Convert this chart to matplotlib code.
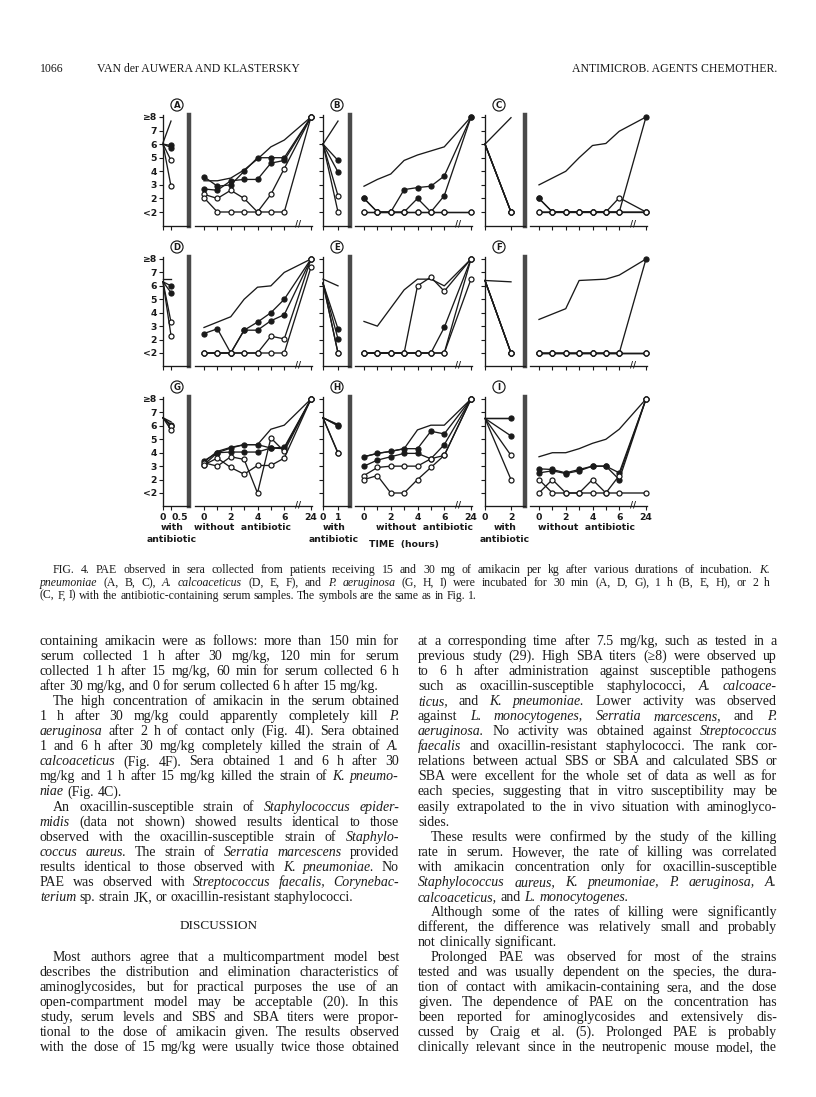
import numpy as np
import matplotlib
matplotlib.use('Agg')
import matplotlib.pyplot as plt

W, H = 816, 1097
INK = '#1a1a1a'

# hours after removal of the antibiotic (24 h is drawn after the axis break)
hours = np.array([0, 1, 2, 3, 4, 5, 6, 24])
# contact time with the antibiotic, per column (30 min, 1 h, 2 h)
t_with = [0.5, 1, 2]
t_with_labels = ['0.5', '1', '2']
ytick_labels = ['<2', '2', '3', '4', '5', '6', '7', '\u22658']

# series order in every panel: control, filled 1, filled 2, open 1, open 2
kinds = ['ctrl', 'filled', 'filled', 'open', 'open']

# --- panel A
a_with0 = [6.1, 6.0, 6.0, 6.0, 6.0]
a_with1 = [7.7, 5.9, 5.75, 4.8, 2.9]
a_without = [[3.3, 3.3, 3.5, 4.1, 4.9, 5.8, 6.3, 8],
             [3.6, 2.9, 3.0, 4.0, 5.0, 5.0, 5.0, 8],
             [2.7, 2.6, 3.3, 3.4, 3.4, 4.6, 4.8, 8],
             [2.3, 2.0, 2.6, 2.0, 1.0, 2.3, 4.2, 8],
             [2.05, 1, 1, 1, 1, 1, 1, 8]]
# --- panel B
b_with0 = [6.0, 6.0, 6.0, 6.0, 6.0]
b_with1 = [7.7, 4.8, 3.95, 2.2, 1.0]
b_without = [[2.9, 3.4, 3.8, 4.8, 5.2, 5.5, 5.8, 8],
             [2.0, 1, 1, 2.65, 2.8, 2.9, 3.65, 8],
             [2.0, 1, 1, 1, 2.0, 1, 2.2, 8],
             [1, 1, 1, 1, 1, 1, 1, 1],
             [1, 1, 1, 1, 1, 1, 1, 1]]
# --- panel C
c_with0 = [6.0, 6.0, 6.0, 6.0, 6.0]
c_with1 = [7.95, 1, 1, 1, 1]
c_without = [[3.0, 3.5, 4.0, 5.0, 5.9, 6.05, 6.95, 8],
             [2.0, 1, 1, 1, 1, 1, 1, 8],
             [2.0, 1, 1, 1, 1, 1, 1, 1],
             [1, 1, 1, 1, 1, 1, 2.05, 1],
             [1, 1, 1, 1, 1, 1, 1, 1]]
# --- panel D
d_with0 = [6.5, 6.3, 6.3, 6.3, 6.3]
d_with1 = [6.5, 6.0, 5.5, 3.3, 2.3]
d_without = [[2.9, 3.3, 3.7, 5.0, 5.9, 6.0, 7.0, 8],
             [2.45, 2.8, 1, 2.7, 3.3, 4.0, 5.0, 8],
             [1, 1, 1, 2.7, 2.7, 3.4, 3.85, 8],
             [1, 1, 1, 1, 1, 2.25, 2.05, 8],
             [1, 1, 1, 1, 1, 1, 1, 7.4]]
# --- panel E
e_with0 = [6.5, 6.2, 6.2, 6.2, 6.2]
e_with1 = [6.0, 2.8, 2.05, 1, 1]
e_without = [[3.35, 3.0, 4.35, 5.7, 6.5, 6.5, 6.0, 8],
             [1, 1, 1, 1, 1, 1, 2.9, 8],
             [1, 1, 1, 1, 1, 1, 1, 8],
             [1, 1, 1, 1, 6.0, 6.65, 5.6, 8],
             [1, 1, 1, 1, 1, 1, 1, 6.5]]
# --- panel F
f_with0 = [6.4, 6.4, 6.4, 6.4, 6.4]
f_with1 = [6.3, 1, 1, 1, 1]
f_without = [[3.5, 3.9, 4.3, 6.4, 6.45, 6.5, 6.8, 8],
             [1, 1, 1, 1, 1, 1, 1, 8],
             [1, 1, 1, 1, 1, 1, 1, 1],
             [1, 1, 1, 1, 1, 1, 1, 1],
             [1, 1, 1, 1, 1, 1, 1, 1]]
# --- panel G
g_with0 = [6.6, 6.6, 6.6, 6.6, 6.6]
g_with1 = [6.3, 6.1, 6.0, 6.0, 5.7]
g_without = [[3.3, 4.1, 4.4, 4.6, 4.6, 5.75, 6.05, 8],
             [3.4, 4.0, 4.35, 4.6, 4.6, 4.35, 4.4, 8],
             [3.1, 4.0, 4.05, 4.05, 4.05, 4.35, 4.3, 8],
             [3.25, 3.0, 3.7, 3.5, 1.0, 5.1, 4.1, 8],
             [3.1, 3.6, 2.9, 2.4, 3.05, 3.05, 3.6, 8]]
# --- panel H
h_with0 = [6.6, 6.6, 6.6, 6.6, 6.6]
h_with1 = [6.1, 6.05, 6.0, 4.0, 3.95]
h_without = [[3.7, 3.95, 4.1, 4.3, 5.7, 6.05, 6.05, 8],
             [3.7, 3.95, 4.1, 4.3, 4.3, 5.6, 5.4, 8],
             [3.0, 3.45, 3.7, 3.95, 3.95, 3.55, 4.6, 8],
             [2.3, 2.9, 3.0, 3.0, 3.0, 3.55, 3.8, 8],
             [2.0, 2.3, 1.0, 1.0, 2.0, 2.9, 3.8, 8]]
# --- panel I
i_with0 = [6.55, 6.55, 6.55, 6.55, 6.55]
i_with1 = [6.55, 6.55, 5.25, 3.8, 2.0]
i_without = [[3.7, 4.0, 4.0, 4.3, 4.7, 5.0, 5.75, 8],
             [2.8, 2.75, 2.5, 2.75, 3.0, 3.0, 2.5, 8],
             [2.5, 2.65, 2.45, 2.65, 3.0, 3.0, 2.0, 8],
             [2.0, 1, 1, 1, 2.0, 1, 2.3, 8],
             [1, 2.0, 1, 1, 1, 1, 1, 1]]

panels = [('A', a_with0, a_with1, a_without), ('B', b_with0, b_with1, b_without),
          ('C', c_with0, c_with1, c_without), ('D', d_with0, d_with1, d_without),
          ('E', e_with0, e_with1, e_without), ('F', f_with0, f_with1, f_without),
          ('G', g_with0, g_with1, g_without), ('H', h_with0, h_with1, h_without),
          ('I', i_with0, i_with1, i_without)]

# page layout in pixels
yaxis_x = [163, 323, 485]
tick_x = [171, 338, 511]
bar_x = [189, 350, 525]
main0_x = [204, 364, 539]
main24_x = [311, 471, 646]
v8_y = [117, 259, 399]
v1_y = [212, 353, 493]
with_lab_x = [172, 334, 505]
without_lab_x = [242, 424, 587]

fig = plt.figure(figsize=(W / 100, H / 100), dpi=100)
fig.patch.set_facecolor('white')


def box(x0, y0, x1, y1):
    return [x0 / W, 1 - y1 / H, (x1 - x0) / W, (y1 - y0) / H]


def fx(x):
    return x / W


def fy(y):
    return 1 - y / H


lab_font = dict(family='DejaVu Sans', fontweight='bold', fontsize=6.7, color=INK)


def draw(ax, x, y, kind, left=False):
    kw = dict(color=INK, lw=0.95, clip_on=False, zorder=4)
    if kind != 'ctrl':
        kw.update(marker='o', ms=3.6, mec=INK, mew=0.9,
                  mfc=INK if kind == 'filled' else 'white')
        if left:
            kw['markevery'] = [1]
    ax.plot(x, y, **kw)


for k, (letter, w0, w1, wo) in enumerate(panels):
    r, c = divmod(k, 3)
    unit = (v1_y[r] - v8_y[r]) / 7
    ybot = v1_y[r] + unit
    ytop = v8_y[r] - 0.15 * unit
    tmax = t_with[c]

    # section with antibiotic
    axl = fig.add_axes(box(yaxis_x[c], ytop, bar_x[c], ybot))
    axl.set_xlim(0, tmax * (bar_x[c] - yaxis_x[c]) / (tick_x[c] - yaxis_x[c]))
    axl.set_ylim(0, 8.15)
    axl.patch.set_alpha(0)
    axl.spines['top'].set_visible(False)
    for s in ('left', 'bottom'):
        axl.spines[s].set_linewidth(0.95)
        axl.spines[s].set_color(INK)
    axl.spines['right'].set_linewidth(3.2)
    axl.spines['right'].set_color('#4a4a4a')
    axl.set_yticks(range(1, 9))
    axl.set_xticks([0, tmax])
    axl.tick_params(direction='out', length=3, width=0.8, color=INK, pad=1.5)
    if c == 0:
        axl.set_yticklabels(ytick_labels, **lab_font)
    else:
        axl.set_yticklabels([])
    if r == 2:
        labs = axl.set_xticklabels(['0', t_with_labels[c]], **lab_font)
        if c == 0:
            labs[1].set_horizontalalignment('left')
    else:
        axl.set_xticklabels([])
    for s in range(5):
        draw(axl, [0, tmax], [w0[s], w1[s]], kinds[s], left=True)

    # section without antibiotic
    s_px = (main24_x[c] - main0_x[c]) / 8
    axm = fig.add_axes(box(main0_x[c] - 0.65 * s_px, ytop, main24_x[c] + 0.08 * s_px, ybot))
    axm.set_xlim(-0.65, 8.08)
    axm.set_ylim(0, 8.15)
    axm.patch.set_alpha(0)
    for s in ('left', 'right', 'top'):
        axm.spines[s].set_visible(False)
    axm.spines['bottom'].set_linewidth(0.95)
    axm.spines['bottom'].set_color(INK)
    axm.set_yticks([])
    pos = np.where(hours == 24, 8, hours)
    axm.set_xticks(pos)
    axm.tick_params(direction='out', length=3, width=0.8, color=INK, pad=1.5)
    if r == 2:
        axm.set_xticklabels(['0', '', '2', '', '4', '', '6', '24'], **lab_font)
    else:
        axm.set_xticklabels([])
    axm.text(7, 0.1, '//', ha='center', va='center', fontsize=6, fontweight='bold',
             color=INK, clip_on=False)
    for s in range(5):
        draw(axm, pos, wo[s], kinds[s])

    # circled panel letter
    fig.text(fx(yaxis_x[c] + 14), fy(v8_y[r] - 12), letter, ha='center', va='center',
             family='DejaVu Sans', fontweight='bold', fontsize=6.2, color=INK,
             bbox=dict(boxstyle='circle,pad=0.18', fc='white', ec=INK, lw=0.85))

# labels under the bottom row
for c in range(3):
    fig.text(fx(with_lab_x[c]), fy(528), 'with', ha='center', va='center', **lab_font)
    fig.text(fx(with_lab_x[c]), fy(540), 'antibiotic', ha='center', va='center', **lab_font)
    fig.text(fx(without_lab_x[c]), fy(528), 'without  antibiotic', ha='center', va='center',
             **lab_font)
fig.text(fx(404), fy(544), 'TIME  (hours)', ha='center', va='center', **lab_font)

# ---------------- page text ----------------
renderer = fig.canvas.get_renderer()
SERIF = 'Liberation Serif'


def text_line(x0, x1, y, line, size, justify):
    words, ital = [], False
    for tok in line.split():
        if tok.startswith('_'):
            ital = True
            tok = tok[1:]
        it = ital
        if '_' in tok:
            tok = tok.replace('_', '')
            ital = False
        words.append((tok, it))
    arts = [fig.text(fx(x0), fy(y), w, fontsize=size, family=SERIF, color=INK,
                     style='italic' if it else 'normal', va='baseline', ha='left')
            for w, it in words]
    widths = [a.get_window_extent(renderer).width for a in arts]
    space = size * 100 / 72 * 0.25
    natural = sum(widths) + space * (len(arts) - 1)
    if natural > x1 - x0:
        f = (x1 - x0) / natural
        for a in arts:
            a.set_fontsize(size * f)
        widths = [wd * f for wd in widths]
        space *= f
    gap = space
    if justify and len(arts) > 1:
        gap = (x1 - x0 - sum(widths)) / (len(arts) - 1)
    x = x0
    for a, wd in zip(arts, widths):
        a.set_x(fx(x))
        x += wd + gap


def paragraph_block(x0, x1, y0, step, lines, size):
    y = y0
    for ln in lines:
        if ln == '':
            y += step
            continue
        indent = 13 if ln.startswith('>') else 0
        last = ln.endswith('|')
        ln = ln.lstrip('>').rstrip('|')
        text_line(x0 + indent, x1, y, ln, size, not last)
        y += step


# running head
fig.text(fx(40), fy(72), '1066', fontsize=8.5, family=SERIF, color=INK, va='baseline')
fig.text(fx(97), fy(72), 'VAN der AUWERA AND KLASTERSKY', fontsize=8.5, family=SERIF,
         color=INK, va='baseline')
fig.text(fx(777), fy(72), 'ANTIMICROB. AGENTS CHEMOTHER.', fontsize=8.5, family=SERIF,
         color=INK, va='baseline', ha='right')

caption = [
    '>FIG. 4. PAE observed in sera collected from patients receiving 15 and 30 mg of amikacin per kg after various durations of incubation. _K._',
    '_pneumoniae_ (A, B, C), _A. calcoaceticus_ (D, E, F), and _P. aeruginosa_ (G, H, I) were incubated for 30 min (A, D, G), 1 h (B, E, H), or 2 h',
    '(C, F, I) with the antibiotic-containing serum samples. The symbols are the same as in Fig. 1.|',
]
paragraph_block(40, 770, 573, 12.8, caption, 8.5)

left_col = [
    'containing amikacin were as follows: more than 150 min for',
    'serum collected 1 h after 30 mg/kg, 120 min for serum',
    'collected 1 h after 15 mg/kg, 60 min for serum collected 6 h',
    'after 30 mg/kg, and 0 for serum collected 6 h after 15 mg/kg.|',
    '>The high concentration of amikacin in the serum obtained',
    '1 h after 30 mg/kg could apparently completely kill _P._',
    '_aeruginosa_ after 2 h of contact only (Fig. 4I). Sera obtained',
    '1 and 6 h after 30 mg/kg completely killed the strain of _A._',
    '_calcoaceticus_ (Fig. 4F). Sera obtained 1 and 6 h after 30',
    'mg/kg and 1 h after 15 mg/kg killed the strain of _K. pneumo-_',
    '_niae_ (Fig. 4C).|',
    '>An oxacillin-susceptible strain of _Staphylococcus epider-_',
    '_midis_ (data not shown) showed results identical to those',
    'observed with the oxacillin-susceptible strain of _Staphylo-_',
    '_coccus aureus_. The strain of _Serratia marcescens_ provided',
    'results identical to those observed with _K. pneumoniae_. No',
    'PAE was observed with _Streptococcus faecalis_, _Corynebac-_',
    '_terium_ sp. strain JK, or oxacillin-resistant staphylococci.|',
    '', '', '',
    '>Most authors agree that a multicompartment model best',
    'describes the distribution and elimination characteristics of',
    'aminoglycosides, but for practical purposes the use of an',
    'open-compartment model may be acceptable (20). In this',
    'study, serum levels and SBS and SBA titers were propor-',
    'tional to the dose of amikacin given. The results observed',
    'with the dose of 15 mg/kg were usually twice those obtained',
]
right_col = [
    'at a corresponding time after 7.5 mg/kg, such as tested in a',
    'previous study (29). High SBA titers (\u22658) were observed up',
    'to 6 h after administration against susceptible pathogens',
    'such as oxacillin-susceptible staphylococci, _A. calcoace-_',
    '_ticus_, and _K. pneumoniae_. Lower activity was observed',
    'against _L. monocytogenes_, _Serratia marcescens_, and _P._',
    '_aeruginosa_. No activity was obtained against _Streptococcus_',
    '_faecalis_ and oxacillin-resistant staphylococci. The rank cor-',
    'relations between actual SBS or SBA and calculated SBS or',
    'SBA were excellent for the whole set of data as well as for',
    'each species, suggesting that in vitro susceptibility may be',
    'easily extrapolated to the in vivo situation with aminoglyco-',
    'sides.|',
    '>These results were confirmed by the study of the killing',
    'rate in serum. However, the rate of killing was correlated',
    'with amikacin concentration only for oxacillin-susceptible',
    '_Staphylococcus aureus_, _K. pneumoniae_, _P. aeruginosa_, _A._',
    '_calcoaceticus_, and _L. monocytogenes_.|',
    '>Although some of the rates of killing were significantly',
    'different, the difference was relatively small and probably',
    'not clinically significant.|',
    '>Prolonged PAE was observed for most of the strains',
    'tested and was usually dependent on the species, the dura-',
    'tion of contact with amikacin-containing sera, and the dose',
    'given. The dependence of PAE on the concentration has',
    'been reported for aminoglycosides and extensively dis-',
    'cussed by Craig et al. (5). Prolonged PAE is probably',
    'clinically relevant since in the neutropenic mouse model, the',
]
BODY_Y0, BODY_STEP = 645, 15.05
paragraph_block(40, 399, BODY_Y0, BODY_STEP, left_col, 10.0)
paragraph_block(418, 777, BODY_Y0, BODY_STEP, right_col, 10.0)
fig.text(fx(219), fy(BODY_Y0 + 18.9 * BODY_STEP), 'DISCUSSION', ha='center', va='baseline',
         fontsize=9.5, family=SERIF, color=INK)

fig.savefig('out.png', dpi=100, facecolor='white')
